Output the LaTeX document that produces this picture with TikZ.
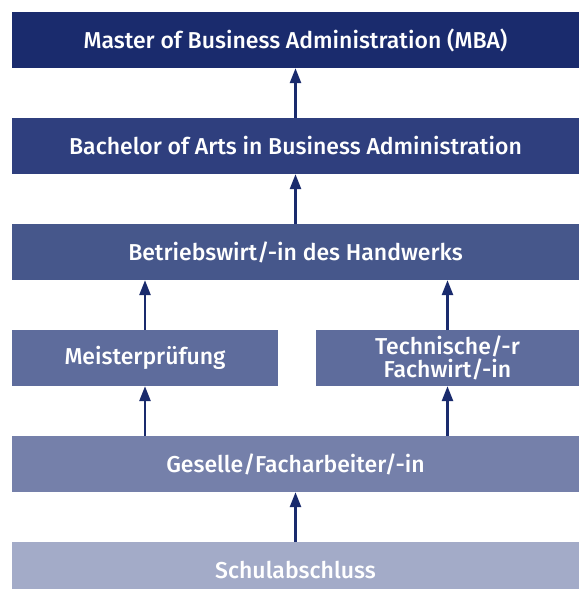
\documentclass[tikz,border=0pt]{standalone}
\usepackage{fontspec}
\setmainfont{Fira Sans}[UprightFont={* Medium}]
\usetikzlibrary{arrows.meta}
\definecolor{c1}{HTML}{1A2B6D}
\definecolor{c2}{HTML}{2F3F7E}
\definecolor{c3}{HTML}{46578B}
\definecolor{c4}{HTML}{5E6C9C}
\definecolor{c5}{HTML}{7580AA}
\definecolor{c6}{HTML}{A3ABC8}
\definecolor{arrowc}{HTML}{1A2B6D}
\begin{document}
\begin{tikzpicture}[x=1pt,y=-1pt,
  lvl/.style={rectangle, inner sep=0pt, minimum height=56pt, text=white,
    font=\fontsize{23}{23}\selectfont, align=center},
  arr/.style={draw=arrowc, line width=2.6pt, -{Triangle[length=15pt,width=11pt]}}]
\clip (0,0) rectangle (579,589);
\fill[white] (0,0) rectangle (579,589);
\node[lvl, fill=c1, minimum width=567pt] (mba) at (295.5,40) {Master of Business Administration (MBA)};
\node[lvl, fill=c2, minimum width=567pt] (ba) at (295.5,146) {Bachelor of Arts in Business Administration};
\node[lvl, fill=c3, minimum width=567pt] (bw) at (295.5,252) {Betriebswirt/-in des Handwerks};
\node[lvl, fill=c4, minimum width=266pt] (mp) at (145,358) {Meisterprüfung};
\node[lvl, fill=c4, minimum width=263pt] (tf) at (447.5,358) {Technische/-r\\Fachwirt/-in};
\node[lvl, fill=c5, minimum width=567pt] (gf) at (295.5,464) {Geselle/Facharbeiter/-in};
\node[lvl, fill=c6, minimum width=567pt] (sa) at (295.5,570) {Schulabschluss};
\draw[arr] (sa.north) -- (gf.south);
\draw[arr] (mp.south |- gf.north) -- (mp.south);
\draw[arr] (tf.south |- gf.north) -- (tf.south);
\draw[arr] (mp.north) -- (mp.north |- bw.south);
\draw[arr] (tf.north) -- (tf.north |- bw.south);
\draw[arr] (bw.north) -- (ba.south);
\draw[arr] (ba.north) -- (mba.south);
\end{tikzpicture}
\end{document}
